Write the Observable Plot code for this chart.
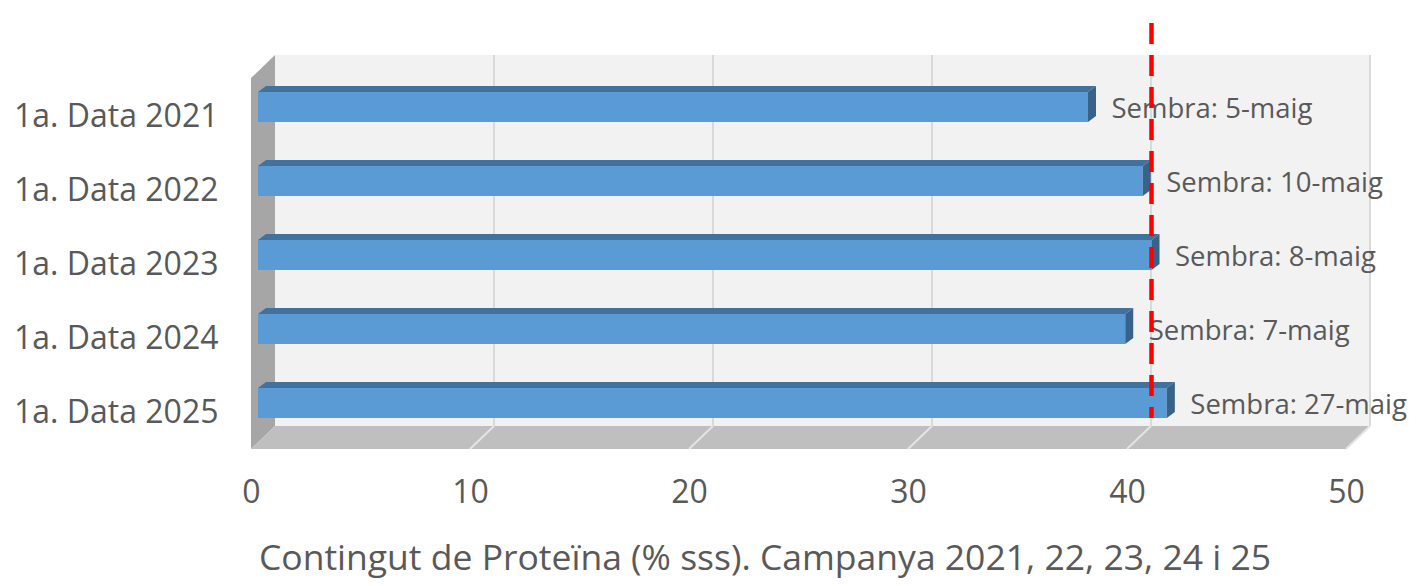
<!DOCTYPE html>
<html><head><meta charset="utf-8">
<script src="https://cdn.jsdelivr.net/npm/d3@7"></script>
<script src="https://cdn.jsdelivr.net/npm/@observablehq/plot@0.6"></script>
<style>body{margin:0;background:#fff;overflow:hidden}</style>
</head><body><div id="chart"></div>
<script>
// ---- data ----
const categories = ["1a. Data 2021", "1a. Data 2022", "1a. Data 2023", "1a. Data 2024", "1a. Data 2025"];
const proteinValues = [37.9, 40.4, 40.8, 39.6, 41.5];
const sowingLabels = ["Sembra: 5-maig", "Sembra: 10-maig", "Sembra: 8-maig", "Sembra: 7-maig", "Sembra: 27-maig"];
const xTicks = [0, 10, 20, 30, 40, 50];
const referenceValue = [40];
const caption = ["Contingut de Proteïna (% sss). Campanya 2021, 22, 23, 24 i 25"];

const data = categories.map((c, i) => ({cat: c, value: proteinValues[i], label: sowingLabels[i]}));

// ---- 3D look (pixel offsets) ----
const BACK = {dx: 24, dy: -23};
const BAR = {dx: 7, dy: -9, depthX: 8, depthY: 6, inset: 22};
const TEXT = "#595959";

function bw(s) { return typeof s.bandwidth === "function" ? s.bandwidth() : (s.bandwidth || 0); }
function polygon(g, pts, fill) {
  g.append("polygon").attr("points", pts.map(p => p.join(",")).join(" ")).attr("fill", fill);
}

const walls = (index, scales, values, dim) => {
  const {x} = scales;
  const L = x(xTicks[0]), R = x(xTicks[xTicks.length - 1]);
  const T = dim.marginTop, B = dim.height - dim.marginBottom;
  const g = d3.create("svg:g");
  polygon(g, [[L + BACK.dx, T + BACK.dy], [R + BACK.dx, T + BACK.dy], [R + BACK.dx, B + BACK.dy], [L + BACK.dx, B + BACK.dy]], "#f2f2f2");
  polygon(g, [[L, T], [L + BACK.dx, T + BACK.dy], [L + BACK.dx, B + BACK.dy], [L, B]], "#a6a6a6");
  polygon(g, [[L, B], [L + BACK.dx, B + BACK.dy], [R + BACK.dx, B + BACK.dy], [R, B]], "#bfbfbf");
  for (const t of xTicks.slice(1)) {
    const xv = x(t);
    g.append("line").attr("x1", xv + BACK.dx).attr("x2", xv + BACK.dx)
      .attr("y1", T + BACK.dy).attr("y2", B + BACK.dy).attr("stroke", "#d9d9d9").attr("stroke-width", 2);
    g.append("line").attr("x1", xv).attr("x2", xv + BACK.dx)
      .attr("y1", B).attr("y2", B + BACK.dy).attr("stroke", "#e4e4e4").attr("stroke-width", 2);
  }
  return g.node();
};

const barFaces = (index, scales, values, dim) => {
  const {x, y} = scales;
  const band = bw(y);
  const g = d3.create("svg:g");
  for (const d of data) {
    const y0 = y(d.cat) + BAR.inset + BAR.dy;
    const y1 = y(d.cat) + band - BAR.inset + BAR.dy;
    const xs = x(0) + BAR.dx, xe = x(d.value) + BAR.dx;
    polygon(g, [[xs, y0], [xs + BAR.depthX, y0 - BAR.depthY], [xe + BAR.depthX, y0 - BAR.depthY], [xe, y0]], "#41719c");
    polygon(g, [[xe, y0], [xe + BAR.depthX, y0 - BAR.depthY], [xe + BAR.depthX, y1 - BAR.depthY], [xe, y1]], "#386289");
  }
  return g.node();
};

const chart = Plot.plot({
  width: 1416,
  height: 586,
  marginLeft: 251,
  marginRight: 70,
  marginTop: 78,
  marginBottom: 137,
  style: {fontFamily: "'Open Sans', sans-serif", fontSize: "32px", color: TEXT, background: "#fff"},
  x: {domain: [xTicks[0], xTicks[xTicks.length - 1]], ticks: xTicks, tickSize: 0, tickPadding: 31, label: null},
  y: {domain: categories, padding: 0, tickSize: 0, tickPadding: 33, label: null},
  marks: [
    walls,
    Plot.barX(data, {x: "value", y: "cat", dx: BAR.dx, dy: BAR.dy, insetTop: BAR.inset, insetBottom: BAR.inset, fill: "#5b9bd5"}),
    barFaces,
    Plot.text(data, {x: "value", y: "cat", text: "label", dx: BAR.dx + 23, dy: -7, textAnchor: "start", fontSize: 27.5, fill: TEXT}),
    Plot.ruleX(referenceValue, {dx: BACK.dx, stroke: "#ff0000", strokeWidth: 4.5, strokeDasharray: "21,11", insetTop: -55, insetBottom: 31}),
    Plot.text(caption, {text: d => d, frameAnchor: "bottom", dx: -34, dy: 120, fontSize: 35.5, fill: TEXT})
  ]
});
document.getElementById("chart").appendChild(chart);
</script>
</body></html>
